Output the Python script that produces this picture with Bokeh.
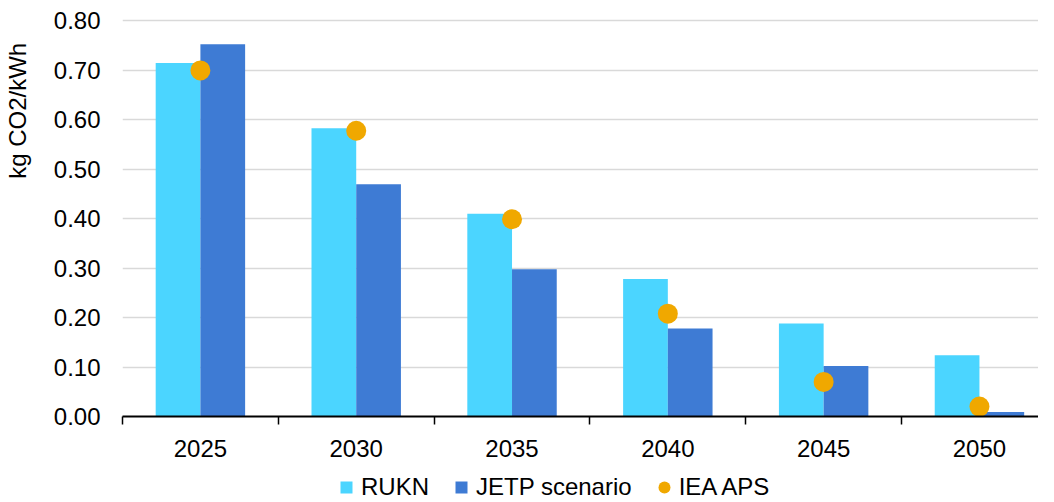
import numpy as np
from bokeh.plotting import figure
from bokeh.layouts import column
from bokeh.models import (Range1d, FixedTicker, Legend, LegendItem,
                          NumeralTickFormatter, ColumnDataSource)
from bokeh.embed import file_html
from bokeh.resources import INLINE

years = ["2025", "2030", "2035", "2040", "2045", "2050"]
rukn = [0.715, 0.583, 0.410, 0.278, 0.188, 0.124]
jetp = [0.753, 0.470, 0.298, 0.178, 0.102, 0.009]
iea_aps = [0.700, 0.578, 0.399, 0.208, 0.070, 0.020]
y_ticks = [0.0, 0.1, 0.2, 0.3, 0.4, 0.5, 0.6, 0.7, 0.8]
y_title = "kg CO2/kWh"

C_RUKN = "#4BD5FF"
C_JETP = "#3E7BD4"
C_IEA = "#F0A800"
FONT = "Liberation Sans"
NB = "\u00a0"

idx = np.arange(len(years), dtype=float)
bw = 0.287

src = ColumnDataSource(dict(x_r=idx - bw / 2, x_j=idx + bw / 2, x=idx,
                            rukn=rukn, jetp=jetp, iea=iea_aps))

p = figure(width=1038, height=468, x_range=Range1d(-0.5, 5.379),
           y_range=Range1d(0, 0.805), output_backend="svg",
           toolbar_location=None, min_border_top=18, min_border_bottom=52,
           min_border_left=115, min_border_right=0)
p.outline_line_color = None
p.background_fill_color = "white"

p.vbar(x="x_r", top="rukn", width=bw, source=src, fill_color=C_RUKN, line_color=None)
p.vbar(x="x_j", top="jetp", width=bw, source=src, fill_color=C_JETP, line_color=None)
p.scatter(x="x", y="iea", size=20, marker="circle", source=src,
          fill_color=C_IEA, line_color=None)

# x axis
xa = p.xaxis[0]
xa.ticker = FixedTicker(ticks=list(idx), minor_ticks=[i - 0.5 for i in range(len(years) + 1)])
xa.major_label_overrides = {i: y for i, y in enumerate(years)}
xa.major_tick_out = 0
xa.major_tick_in = 0
xa.major_tick_line_color = None
xa.minor_tick_out = 8
xa.minor_tick_in = 0
xa.minor_tick_line_color = "black"
xa.minor_tick_line_width = 1.5
xa.axis_line_color = "black"
xa.axis_line_width = 2
xa.major_label_standoff = 15
xa.major_label_text_font = FONT
xa.major_label_text_font_size = "24px"
xa.major_label_text_color = "black"

# y axis
ya = p.yaxis[0]
ya.ticker = FixedTicker(ticks=y_ticks)
ya.formatter = NumeralTickFormatter(format="0.00")
ya.axis_line_color = None
ya.major_tick_line_color = None
ya.minor_tick_line_color = None
ya.major_tick_out = 0
ya.major_tick_in = 0
ya.major_label_standoff = 22
ya.major_label_text_font = FONT
ya.major_label_text_font_size = "24px"
ya.major_label_text_color = "black"
# leading no-break spaces lift the title toward the top of the axis
ya.axis_label = NB * 32 + y_title
ya.axis_label_text_font = FONT
ya.axis_label_text_font_size = "24px"
ya.axis_label_text_font_style = "normal"
ya.axis_label_text_color = "black"
ya.axis_label_standoff = 20

p.xgrid.visible = False
p.ygrid[0].ticker = FixedTicker(ticks=y_ticks)
p.ygrid.grid_line_color = "#d9d9d9"
p.ygrid.grid_line_width = 1.5

# legend strip (separate small figure below)
p2 = figure(width=1038, height=34, x_range=Range1d(0, 1038), y_range=Range1d(0, 34),
            output_backend="svg", toolbar_location=None,
            x_axis_location=None, y_axis_location=None,
            min_border_top=0, min_border_bottom=0, min_border_left=0, min_border_right=0)
p2.outline_line_color = None
p2.grid.visible = False
l1 = p2.scatter(x=[-100], y=[-100], marker="square", fill_color=C_RUKN, line_color=None)
l2 = p2.scatter(x=[-100], y=[-100], marker="square", fill_color=C_JETP, line_color=None)
l3 = p2.scatter(x=[-100], y=[-100], marker="circle", fill_color=C_IEA, line_color=None)

legend = Legend(items=[LegendItem(label="RUKN", renderers=[l1]),
                       LegendItem(label="JETP scenario", renderers=[l2]),
                       LegendItem(label="IEA APS", renderers=[l3])],
                orientation="horizontal", location=(209, 0),
                glyph_width=30, glyph_height=30, label_standoff=0, spacing=17,
                padding=0, margin=0, border_line_color=None,
                background_fill_alpha=0, label_text_font=FONT,
                label_text_font_size="24px", label_text_color="black")
p2.add_layout(legend)

layout = column(p, p2, spacing=0)
open("out.html", "w").write(file_html(layout, INLINE))
